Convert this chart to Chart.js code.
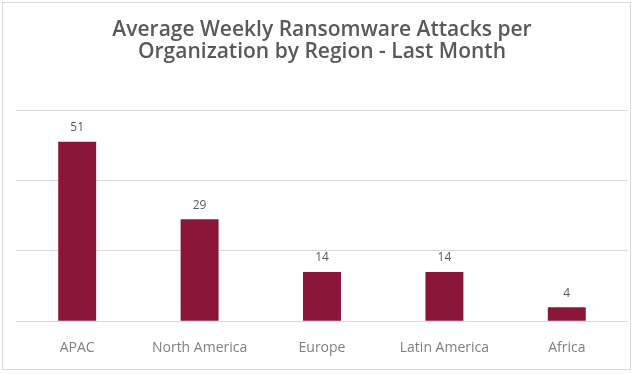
<!DOCTYPE html>
<html>
<head>
<meta charset="utf-8">
<script src="https://cdn.jsdelivr.net/npm/chart.js@4"></script>
<style>
  html, body { margin: 0; padding: 0; background: #fff; }
  #wrap { position: relative; width: 634px; height: 374px; }
  #frame { position: absolute; left: 2px; top: 2px; width: 629px; height: 368px; border: 1px solid #d9d9d9; box-sizing: border-box; pointer-events: none; }
</style>
</head>
<body>
<div id="wrap">
  <canvas id="chart" width="634" height="374"></canvas>
  <div id="frame"></div>
</div>
<script>
  const REGIONS = ["APAC", "North America", "Europe", "Latin America", "Africa"];
  const ATTACKS = [51, 29, 14, 14, 4];
  const TITLE_LINES = ["Average Weekly Ransomware Attacks per", "Organization by Region - Last Month"];
  const Y_MAX = 60;
  const Y_STEP = 20;

  const barLabels = {
    id: "barLabels",
    afterDatasetsDraw(chart) {
      const ctx = chart.ctx;
      const meta = chart.getDatasetMeta(0);
      ctx.save();
      ctx.font = "12px 'Open Sans'";
      ctx.fillStyle = "#595959";
      ctx.textAlign = "center";
      ctx.textBaseline = "middle";
      meta.data.forEach((bar, i) => {
        ctx.fillText(String(ATTACKS[i]), bar.x, bar.y - 14);
      });
      ctx.restore();
    }
  };

  new Chart(document.getElementById("chart"), {
    type: "bar",
    data: {
      labels: REGIONS,
      datasets: [{
        data: ATTACKS,
        backgroundColor: "#8b1538",
        categoryPercentage: 1,
        barPercentage: 0.31
      }]
    },
    options: {
      responsive: false,
      animation: false,
      layout: { padding: { left: 16, right: 6, top: 8, bottom: 0 } },
      plugins: {
        legend: { display: false },
        tooltip: { enabled: false },
        title: {
          display: true,
          text: TITLE_LINES,
          color: "#595959",
          font: { family: "Open Sans", size: 21, weight: "600", lineHeight: 1.05 },
          padding: { top: 11, bottom: 47 }
        }
      },
      scales: {
        x: {
          grid: { display: false, drawTicks: false },
          border: { display: false },
          ticks: { color: "#7f7f7f", font: { family: "Open Sans", size: 14 }, padding: 18 }
        },
        y: {
          min: 0,
          max: Y_MAX,
          ticks: { display: false, stepSize: Y_STEP },
          grid: { color: "#d9d9d9", drawTicks: false },
          border: { display: false }
        }
      }
    },
    plugins: [barLabels]
  });
</script>
</body>
</html>
